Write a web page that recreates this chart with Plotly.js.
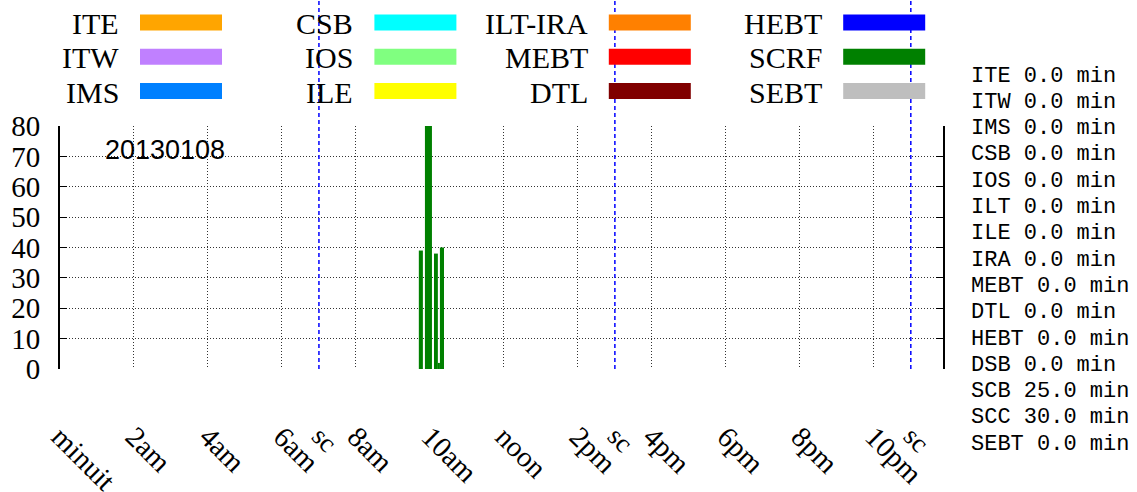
<!DOCTYPE html>
<html><head><meta charset="utf-8">
<script src="https://cdn.plot.ly/plotly-3.0.1.min.js"></script>
<style>html,body{margin:0;padding:0;background:#fff}#chart{width:1137px;height:492px}</style>
</head><body><div id="chart"></div>
<script>
// x-axis ticks (hours of the day)
const hourTicks = [0, 2, 4, 6, 8, 10, 12, 14, 16, 18, 20, 22];
const hourLabels = ['minuit', '2am', '4am', '6am', '8am', '10am', 'noon', '2pm', '4pm', '6pm', '8pm', '10pm'];
// shift changes
const shiftChanges = [7, 15, 23];
const shiftLabels = ['sc', 'sc', 'sc'];
// SCRF downtime bars: start / end (hours) and values
const scrfStart = [9.70, 9.865, 10.11, 10.215, 10.27];
const scrfEnd = [9.81, 10.055, 10.215, 10.27, 10.38];
const scrfValues = [39, 80, 38, 2, 40];
// legend categories and colours
const legendNames = ['ITE', 'ITW', 'IMS', 'CSB', 'IOS', 'ILE', 'ILT-IRA', 'MEBT', 'DTL', 'HEBT', 'SCRF', 'SEBT'];
const legendColors = ['#FFA500', '#C080FF', '#0080FF', '#00FFFF', '#80FF80', '#FFFF00', '#FF8000', '#FF0000', '#800000', '#0000FF', '#008000', '#BEBEBE'];
// summary (minutes)
const summaryNames = ['ITE', 'ITW', 'IMS', 'CSB', 'IOS', 'ILT', 'ILE', 'IRA', 'MEBT', 'DTL', 'HEBT', 'DSB', 'SCB', 'SCC', 'SEBT'];
const summaryMinutes = [0, 0, 0, 0, 0, 0, 0, 0, 0, 0, 0, 0, 25, 30, 0];
const dateLabel = '20130108';

const W = 1137, H = 492;
const M = {l: 60, r: 194, t: 126, b: 123};
const PW = W - M.l - M.r, PH = H - M.t - M.b;
const px2x = px => (px - M.l) / PW;
const py2y = py => (H - M.b - py) / PH;

const serif = 'Liberation Serif, Times New Roman, serif';
const mono = 'Liberation Mono, Courier New, monospace';
const sans = 'Liberation Sans, Arial, sans-serif';

const traces = [{
  type: 'bar',
  name: 'SCRF',
  x: scrfStart.map((s, i) => (s + scrfEnd[i]) / 2),
  y: scrfValues,
  width: scrfStart.map((s, i) => scrfEnd[i] - s),
  marker: {color: legendColors[legendNames.indexOf('SCRF')], line: {width: 0}},
  hoverinfo: 'skip'
}];

const shapes = [];
const annotations = [];

// shift-change lines
shiftChanges.forEach((t, i) => {
  shapes.push({type: 'line', xref: 'x', yref: 'paper', x0: t, x1: t, y0: 0, y1: py2y(0),
    line: {color: '#0000FF', width: 1.5, dash: '4px,3px'}, layer: 'above'});
  annotations.push({xref: 'x', yref: 'paper', x: t, y: py2y(440), xshift: 6, text: shiftLabels[i],
    showarrow: false, textangle: 45, xanchor: 'center', yanchor: 'middle',
    font: {family: serif, size: 27, color: '#000'}});
});

// legend
legendNames.forEach((n, i) => {
  const col = Math.floor(i / 3), row = i % 3;
  const bx = 140 + col * 234.4;
  const cy = 22.5 + row * 34.3;
  shapes.push({type: 'rect', xref: 'paper', yref: 'paper', x0: px2x(bx), x1: px2x(bx + 82),
    y0: py2y(cy - 8), y1: py2y(cy + 8), fillcolor: legendColors[i], line: {width: 0}, layer: 'above'});
  annotations.push({xref: 'paper', yref: 'paper', x: px2x(bx - 19), y: py2y(cy + 1), text: n,
    showarrow: false, xanchor: 'right', yanchor: 'middle',
    font: {family: serif, size: 30, color: '#000'}});
});

// summary text
summaryNames.forEach((n, i) => {
  annotations.push({xref: 'paper', yref: 'paper', x: px2x(969), y: py2y(76 + i * 26.3),
    text: n + ' ' + summaryMinutes[i].toFixed(1) + ' min', showarrow: false,
    xanchor: 'left', yanchor: 'middle', font: {family: mono, size: 22, color: '#000'}});
});

// date label
annotations.push({xref: 'paper', yref: 'paper', x: px2x(164.5), y: py2y(150), text: dateLabel,
  showarrow: false, xanchor: 'center', yanchor: 'middle', font: {family: sans, size: 27, color: '#000'}});

const layout = {
  width: W, height: H, margin: M,
  paper_bgcolor: '#fff', plot_bgcolor: '#fff',
  showlegend: false,
  xaxis: {range: [0, 23.87], tickmode: 'array', tickvals: hourTicks, ticktext: hourLabels,
    tickangle: 45, ticks: '', showline: false, zeroline: false,
    showgrid: true, gridcolor: '#333', gridwidth: 1, griddash: '1px,2px',
    tickfont: {family: serif, size: 29, color: '#000'}, ticklabelstandoff: 44},
  yaxis: {range: [0, 80], dtick: 10, tick0: 0, ticks: 'inside', ticklen: 7, tickcolor: '#000', tickwidth: 1,
    showline: true, linecolor: '#000', linewidth: 2, mirror: 'ticks', zeroline: false,
    showgrid: true, gridcolor: '#333', gridwidth: 1, griddash: '1px,2px',
    tickfont: {family: serif, size: 29, color: '#000'}, ticklabelstandoff: 12},
  shapes: shapes,
  annotations: annotations
};

Plotly.newPlot('chart', traces, layout, {staticPlot: true, displayModeBar: false});
</script>
</body></html>
